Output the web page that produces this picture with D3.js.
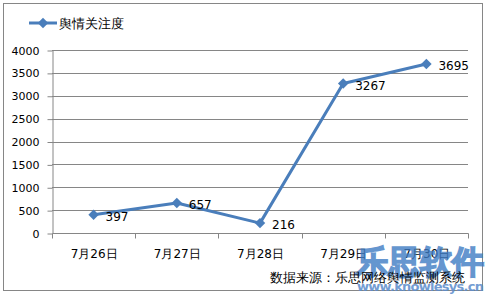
<!DOCTYPE html>
<html>
<head>
<meta charset="utf-8">
<script src="https://cdn.jsdelivr.net/npm/d3@7"></script>
<style>
  body { margin: 0; background: #fff; }
  text { font-family: "DejaVu Sans", Verdana, sans-serif; }
</style>
</head>
<body>
<div id="chart"></div>
<script>
//chart data
var categories = ['7月26日', '7月27日', '7月28日', '7月29日', '7月30日'];
var values = [397, 657, 216, 3267, 3695];
var yTicks = [0, 500, 1000, 1500, 2000, 2500, 3000, 3500, 4000];
var seriesName = '舆情关注度';
var sourceText = '数据来源：乐思网络舆情监测系统';

var width = 487, height = 295;
var lineColor = '#4a7ebb';

var svg = d3.select('#chart').append('svg')
    .attr('width', width)
    .attr('height', height);

//outer frame
svg.append('rect')
    .attr('x', 3.5).attr('y', 3.5)
    .attr('width', 479).attr('height', 287)
    .attr('fill', '#fff')
    .attr('stroke', '#868686');

var x = d3.scaleBand().domain(categories).range([52, 468]);
var y = d3.scaleLinear().domain([0, 4000]).range([233, 50]);

//gridlines
svg.append('g').selectAll('line')
    .data(yTicks.slice(1))
    .enter().append('line')
    .attr('x1', 52).attr('x2', 468)
    .attr('y1', function(d) { return Math.round(y(d)) + 0.5; })
    .attr('y2', function(d) { return Math.round(y(d)) + 0.5; })
    .attr('stroke', '#868686');

//y axis
var yAxis = svg.append('g')
    .attr('transform', 'translate(52.5,0.5)')
    .call(d3.axisLeft(y).tickValues(yTicks).tickFormat(d3.format('d'))
        .tickSize(5).tickPadding(8).tickSizeOuter(0));
yAxis.select('.domain').attr('stroke', '#868686');
yAxis.selectAll('line').attr('stroke', '#868686');
yAxis.selectAll('text').attr('font-size', 11).attr('fill', '#000')
    .attr('font-family', 'Verdana, "DejaVu Sans", sans-serif');

//x axis
var xAxis = svg.append('g').attr('transform', 'translate(0.5,' + (Math.round(y(0)) + 0.5) + ')');
xAxis.append('line').attr('x1', 52).attr('x2', 468).attr('stroke', '#868686');
var bounds = categories.map(function(c) { return x(c); }).concat([x.range()[1]]);
xAxis.selectAll('.tk').data(bounds).enter().append('line')
    .attr('x1', function(d) { return Math.round(d); })
    .attr('x2', function(d) { return Math.round(d); })
    .attr('y1', 0).attr('y2', 5)
    .attr('stroke', '#868686');
xAxis.selectAll('.lbl').data(categories).enter().append('text')
    .attr('x', function(d) { return x(d) + x.bandwidth() / 2; })
    .attr('y', 24)
    .attr('text-anchor', 'middle')
    .attr('font-size', 12)
    .attr('font-family', '"Noto Sans CJK SC", sans-serif')
    .text(function(d) { return d; });

//the line
var line = d3.line()
    .x(function(d, i) { return x(categories[i]) + x.bandwidth() / 2; })
    .y(function(d) { return y(d); });

svg.append('path')
    .datum(values)
    .attr('d', line)
    .attr('fill', 'none')
    .attr('stroke', lineColor)
    .attr('stroke-width', 3)
    .attr('stroke-linejoin', 'round');

var diamond = d3.symbol().type(d3.symbolDiamond2).size(70);
svg.selectAll('.pt').data(values).enter().append('path')
    .attr('transform', function(d, i) {
        return 'translate(' + (x(categories[i]) + x.bandwidth() / 2) + ',' + y(d) + ')';
    })
    .attr('d', diamond)
    .attr('fill', lineColor);

//data labels
svg.selectAll('.dl').data(values).enter().append('text')
    .attr('x', function(d, i) { return x(categories[i]) + x.bandwidth() / 2 + 12; })
    .attr('y', function(d) { return y(d) + 6; })
    .attr('font-size', 12)
    .attr('fill', '#000')
    .text(function(d) { return d; });

//legend
svg.append('line')
    .attr('x1', 29).attr('x2', 57).attr('y1', 23).attr('y2', 23)
    .attr('stroke', lineColor).attr('stroke-width', 3);
svg.append('path')
    .attr('transform', 'translate(43,23)')
    .attr('d', diamond)
    .attr('fill', lineColor);
svg.append('text')
    .attr('x', 59).attr('y', 28)
    .attr('font-size', 13)
    .attr('font-family', '"Noto Sans CJK SC", sans-serif')
    .text(seriesName);

//watermark
svg.append('text')
    .attr('x', 356).attr('y', 273)
    .attr('font-size', 32)
    .attr('font-weight', 900)
    .attr('font-family', '"Noto Sans CJK SC", sans-serif')
    .attr('fill', '#3f7cc4').attr('opacity', 0.8)
    .attr('stroke', '#3f7cc4').attr('stroke-width', 1.5)
    .attr('textLength', 128)
    .text('乐思软件');
svg.append('text')
    .attr('x', 357).attr('y', 291)
    .attr('font-size', 13)
    .attr('font-weight', 'bold')
    .attr('font-family', '"Liberation Serif", serif')
    .attr('fill', '#5b8ccc').attr('opacity', 0.85)
    .attr('textLength', 127)
    .text('www.knowlesys.cn');

//source note
svg.append('text')
    .attr('x', 270).attr('y', 282)
    .attr('font-size', 13)
    .attr('font-family', '"Noto Sans CJK SC", sans-serif')
    .attr('fill', '#000')
    .text(sourceText);
</script>
</body>
</html>
